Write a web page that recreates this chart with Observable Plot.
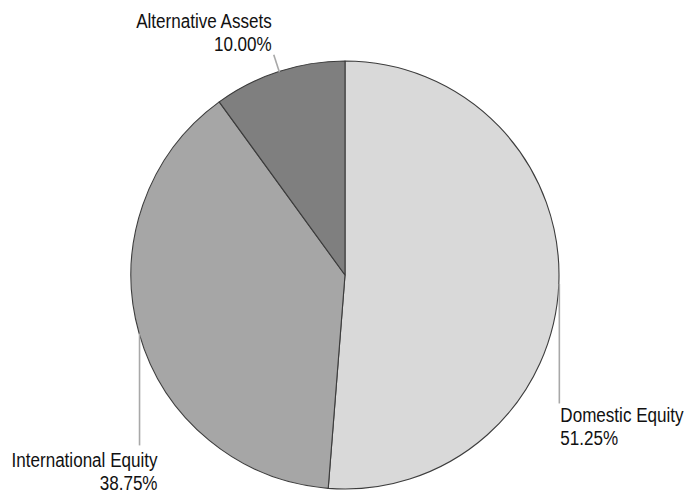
<!DOCTYPE html>
<html>
<head>
<meta charset="utf-8">
<script src="https://cdn.jsdelivr.net/npm/d3@7"></script>
<script src="https://cdn.jsdelivr.net/npm/@observablehq/plot@0.6"></script>
<style>
  html, body { margin: 0; padding: 0; background: #ffffff; }
</style>
</head>
<body>
<div id="chart"></div>
<script>
// ---- data ----
const categories = ["Domestic Equity", "International Equity", "Alternative Assets"];
const shares = [51.25, 38.75, 10.00];
const sliceColors = ["#d9d9d9", "#a6a6a6", "#7f7f7f"];

// ---- derived slice geometry (angles in radians, 0 = 12 o'clock, clockwise) ----
const total = d3.sum(shares);
let acc = 0;
const slices = categories.map((name, i) => {
  const start = acc / total * 2 * Math.PI;
  acc += shares[i];
  const end = acc / total * 2 * Math.PI;
  const mid = (start + end) / 2;
  return {
    name, value: shares[i], start, end, mid,
    ex: Math.sin(mid), ey: Math.cos(mid),
    label: `${name}\n${shares[i].toFixed(2)}%`
  };
});

// leader line style per label: vertical drop to a level, or radial extension
const leader = {
  "Domestic Equity":      {kind: "vertical", to: -0.598, textAnchor: "start", lineAnchor: "top",    dx: 1,  dy: 1.5},
  "International Equity": {kind: "vertical", to: -0.794, textAnchor: "end",   lineAnchor: "top",    dx: 18, dy: 4.5},
  "Alternative Assets":   {kind: "radial",   to: 1.085,  textAnchor: "end",   lineAnchor: "bottom", dx: -2, dy: -3.5}
};
slices.forEach(s => {
  const L = leader[s.name];
  if (L.kind === "vertical") { s.lx = s.ex; s.ly = L.to; }
  else { s.lx = s.ex * L.to; s.ly = s.ey * L.to; }
});

const textMarks = slices.map(s => {
  const L = leader[s.name];
  return Plot.text([s], {
    x: "lx", y: "ly", text: "label",
    textAnchor: L.textAnchor, lineAnchor: L.lineAnchor,
    dx: L.dx, dy: L.dy,
    fontSize: 19.5, lineHeight: 1.2, fill: "#111111",
    className: "pie-label"
  });
});

const chart = Plot.plot({
  width: 684,
  height: 493,
  marginLeft: 131,
  marginRight: 125,
  marginTop: 61,
  marginBottom: 4,
  x: {domain: [-1, 1], axis: null},
  y: {domain: [-1, 1], axis: null},
  color: {domain: categories, range: sliceColors},
  style: {fontFamily: "'Liberation Sans', Arial, sans-serif", background: "#ffffff"},
  marks: [
    Plot.dot(slices, {
      x: () => 0, y: () => 0, fill: "name",
      render(index, scales, values, dimensions, context) {
        const cx = scales.x(0), cy = scales.y(0);
        const r = scales.x(1) - scales.x(0);
        const arc = d3.arc().innerRadius(0).outerRadius(r);
        const g = d3.select(context.document.createElementNS("http://www.w3.org/2000/svg", "g"));
        g.selectAll("path").data(index).join("path")
          .attr("transform", `translate(${cx},${cy})`)
          .attr("d", i => arc({startAngle: slices[i].start, endAngle: slices[i].end}))
          .attr("fill", i => values.fill[i])
          .attr("stroke", "#3c3c3c")
          .attr("stroke-width", 1.1)
          .attr("stroke-linejoin", "round");
        return g.node();
      }
    }),
    Plot.link(slices, {
      x1: "ex", y1: "ey", x2: "lx", y2: "ly",
      stroke: "#a8a8a8", strokeWidth: 1.6
    }),
    ...textMarks
  ]
});

// condense the label glyphs horizontally (narrow sans look of the reference)
chart.querySelectorAll("g.pie-label text, .pie-label text").forEach(t => {
  const tr = t.getAttribute("transform") || "";
  t.setAttribute("transform", `${tr} scale(0.875,1)`);
});

document.getElementById("chart").appendChild(chart);
</script>
</body>
</html>
